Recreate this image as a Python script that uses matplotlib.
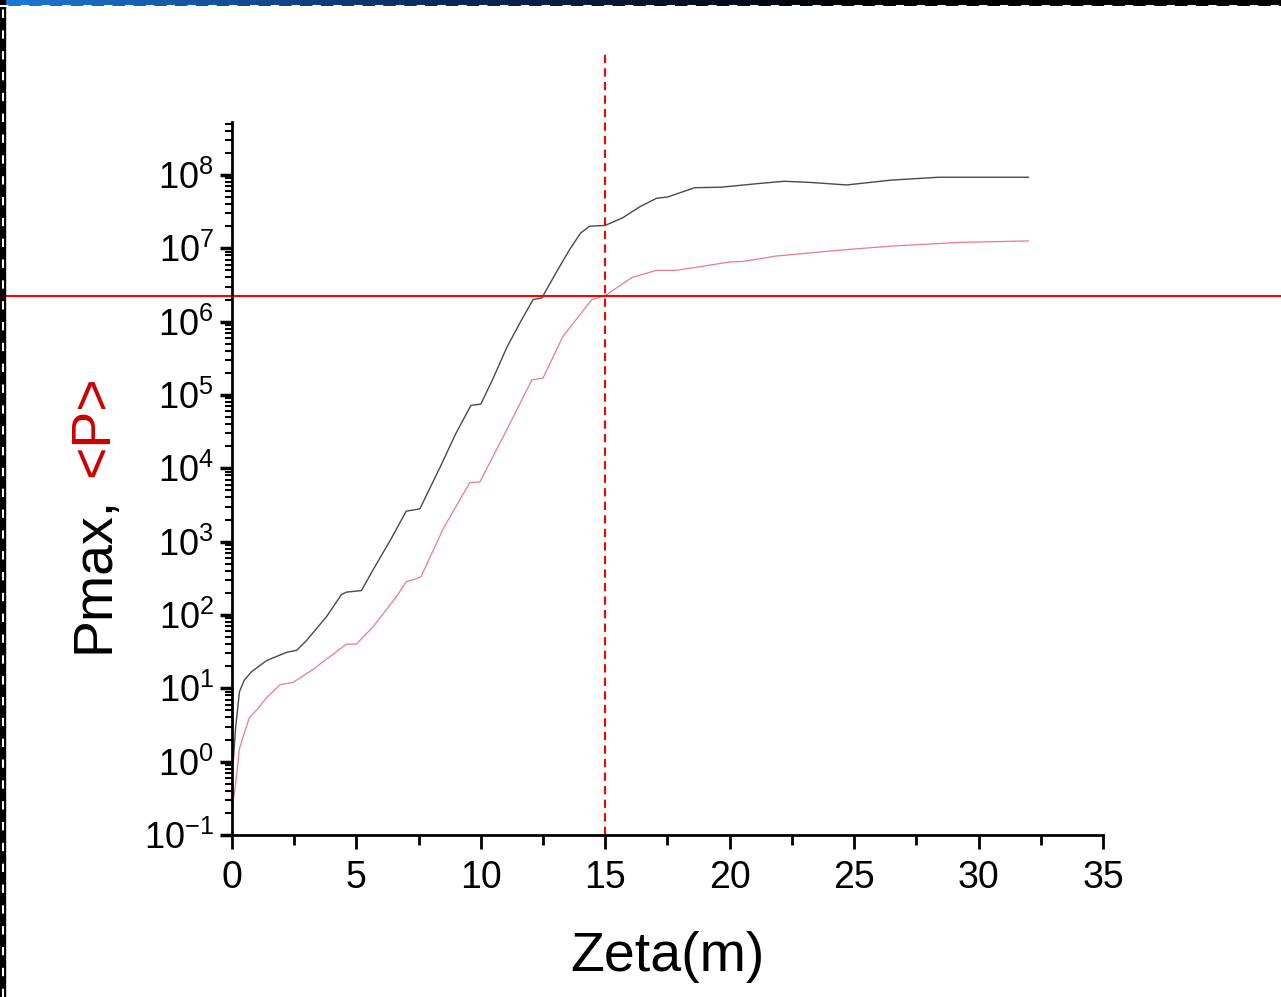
import matplotlib
matplotlib.use('Agg')
import matplotlib.pyplot as plt
import numpy as np
from matplotlib.lines import Line2D
from matplotlib.patches import Rectangle
from matplotlib.ticker import LogLocator, MultipleLocator

plt.rcParams['font.family'] = ['Liberation Sans', 'DejaVu Sans']
plt.rcParams['mathtext.fontset'] = 'custom'
plt.rcParams['mathtext.rm'] = 'Liberation Sans'
plt.rcParams['mathtext.it'] = 'Liberation Sans:italic'

# peak power along the fibre
zeta_max = [0.05, 0.15, 0.3, 0.5, 0.8, 1.4, 2.2, 2.6, 3.0, 3.8, 4.4, 4.6, 5.2,
            5.7, 6.4, 7.0, 7.55, 8.4, 9.0, 9.6, 10.0, 10.5, 11.05, 11.6, 12.1,
            12.45, 13.0, 13.56, 14.0, 14.37, 15.0, 15.7, 16.4, 17.06, 17.5,
            18.6, 19.65, 21.1, 22.2, 23.25, 24.7, 26.5, 28.4, 32.0]
p_max = [1.0, 3.0, 9.0, 13, 17, 24, 31, 33, 45, 95, 190, 205, 215,
         430, 1100, 2600, 2800, 1.1e4, 3.0e4, 7.2e4, 7.5e4, 1.7e5, 4.5e5, 1.0e6, 2.0e6,
         2.1e6, 4.5e6, 9.5e6, 1.6e7, 2.0e7, 2.05e7, 2.6e7, 3.7e7, 4.8e7, 5.0e7,
         6.7e7, 6.8e7, 7.6e7, 8.2e7, 7.9e7, 7.3e7, 8.5e7, 9.3e7, 9.3e7]

# mean power
zeta_mean = [0.05, 0.12, 0.3, 0.45, 0.7, 1.0, 1.4, 1.93, 2.45, 3.25, 3.8, 4.6,
             5.0, 5.67, 6.62, 7.0, 7.4, 7.6, 8.48, 9.56, 9.96, 11.05, 12.05,
             12.5, 13.3, 14.46, 15.0, 16.07, 17.06, 17.86, 20.0, 20.5, 21.45,
             21.8, 24.7, 26.5, 29.2, 32.0]
p_mean = [0.3, 0.42, 1.5, 2.2, 4.0, 5.1, 7.5, 11.2, 12, 18, 25, 40,
          40, 69, 180, 285, 310, 335, 1480, 6400, 6500, 3.4e4, 1.6e5,
          1.7e5, 6.3e5, 2.0e6, 2.26e6, 4.0e6, 5.0e6, 5.0e6, 6.5e6, 6.6e6, 7.4e6,
          7.8e6, 9.6e6, 1.07e7, 1.2e7, 1.26e7]

zeta_mark = 15.0
p_mark = 2.26e6

fig = plt.figure(figsize=(12.81, 9.97), dpi=100)
ax = fig.add_axes([0.1811, 0.1625, 0.6799, 0.7152])

ax.plot(zeta_max, p_max, color='#4a4a4a', lw=1.0)
ax.plot(zeta_mean, p_mean, color='#e05068', lw=0.9, alpha=0.75)

ax.set_yscale('log')
ax.set_xlim(0, 35)
ax.set_ylim(0.1, 5.28e8)

# guide lines through the marked point
ax.axhline(p_mark, xmin=-0.27, xmax=1.21, color='red', lw=1.5, clip_on=False)
ax.axvline(zeta_mark, ymin=0, ymax=1.098, color='red', lw=1.5,
           ls=(0, (4, 2.5)), clip_on=False)

for side in ['top', 'right']:
    ax.spines[side].set_visible(False)
for side in ['left', 'bottom']:
    ax.spines[side].set_linewidth(2.0)

ax.xaxis.set_major_locator(MultipleLocator(5))
ax.xaxis.set_minor_locator(MultipleLocator(2.5))
ax.yaxis.set_major_locator(LogLocator(base=10, numticks=20))
ax.yaxis.set_minor_locator(LogLocator(base=10, subs=np.arange(2, 10), numticks=20))

ax.tick_params(axis='x', which='major', direction='out', length=10, width=2,
               labelsize=27, pad=8)
ax.tick_params(axis='x', which='minor', direction='out', length=7, width=2)
ax.tick_params(axis='y', which='major', direction='out', length=9, width=2.5,
               labelsize=26, pad=4)
ax.tick_params(axis='y', which='minor', direction='out', length=5, width=1.5)

fig.text(0.5207, 0.040, 'Zeta(m)', fontsize=40, ha='center', va='center')
fig.text(0.0734, 0.345, 'Pmax,', fontsize=40, rotation=90,
         ha='center', va='bottom')
fig.text(0.0734, 0.5216, '<P>', fontsize=40, rotation=90, color='#cc0000',
         ha='center', va='bottom')

# window frame around the capture
bar = fig.add_axes([0, 1 - 6 / 997, 1, 6 / 997])
grad = np.linspace(0, 1, 256).reshape(1, -1)
bar.imshow(grad, aspect='auto', cmap=matplotlib.colors.LinearSegmentedColormap.from_list(
    'frame', ['#1e78d8', '#0a2a60', '#000000', '#000000']))
bar.set_axis_off()
fig.patches.append(Rectangle((0, 0), 5 / 1281, 1, transform=fig.transFigure,
                             color='black', zorder=5))
fig.lines.append(Line2D([2.5 / 1281, 2.5 / 1281], [0, 1], transform=fig.transFigure,
                        color='white', lw=1.5, ls=(0, (4, 6)), zorder=6))
fig.lines.append(Line2D([0, 1], [1 - 6 / 997, 1 - 6 / 997], transform=fig.transFigure,
                        color='white', lw=1.5, ls=(0, (4, 6)), zorder=6))

fig.savefig('out.png', dpi=100)
